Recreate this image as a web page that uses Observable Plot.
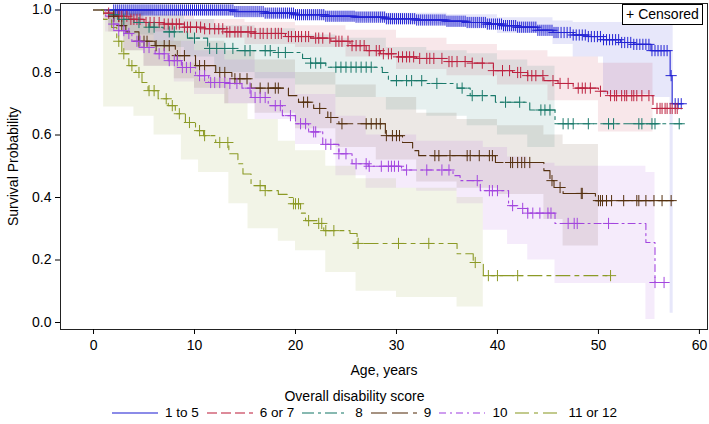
<!DOCTYPE html>
<html><head><meta charset="utf-8">
<script src="https://cdn.jsdelivr.net/npm/d3@7"></script>
<script src="https://cdn.jsdelivr.net/npm/@observablehq/plot@0.6"></script>
<style>
body{margin:0;background:#fff;font-family:"Liberation Sans",Arial,sans-serif;}
#wrap{position:relative;width:709px;height:424px;overflow:hidden;}
#censbox{position:absolute;left:622px;top:4px;width:79px;height:19px;border:1px solid #000;font-size:14px;line-height:19px;text-align:center;background:#fff;}
#ltitle{position:absolute;left:0;width:709px;top:388px;text-align:center;font-size:14px;}
#litems{position:absolute;left:0;width:709px;top:405px;display:flex;justify-content:center;padding-left:28px;box-sizing:border-box;font-size:13.5px;align-items:center;}
.li{display:flex;align-items:center;margin-right:8px;}
.li svg{margin-right:7px;}
</style></head><body><div id="wrap"></div>
<script>
// ---- data ----
const groups = ["1 to 5","6 or 7","8","9","10","11 or 12"];
const colors = ["#2424d4","#bd2340","#1b7a6b","#55300f","#a346df","#8c9a26"];
const dashes = ["none","10,4","12,4,3,4","16,5","7,4,2,4","14,5,4,5"];
const xTicks = [0,10,20,30,40,50,60];
const yTicks = [0,0.2,0.4,0.6,0.8,1.0];

// 1 to 5
const t1 = [0,14,17,20,23,26,29,32,35,37,39,40.5,42,44,45.5,47.5,49,50.5,52.2,53.5,55.2,57.1,57.3,58.3];
const s1 = [1,0.995,0.99,0.985,0.98,0.977,0.972,0.968,0.964,0.96,0.955,0.95,0.945,0.935,0.928,0.92,0.915,0.905,0.896,0.89,0.87,0.79,0.70,0.70];
const bt1 = [0,2,10,17,23,29,35,40,45.5,47.5,50.5,55.2,57.1,57.4];
const lo1 = [1,0.985,0.982,0.975,0.965,0.955,0.945,0.925,0.89,0.85,0.73,0.72,0.03,0.03];
const hi1 = [1,1,1,0.998,0.995,0.99,0.985,0.975,0.965,0.96,0.96,0.95,1,1];
const c1 = [2,2.2,2.4,2.6,2.8,3,3.2,3.4,3.6,3.8,4,4.2,4.4,4.6,4.8,5,5.2,5.4,5.6,5.8,6,6.2,6.4,6.6,6.8,7,7.2,7.4,7.6,7.8,8,8.2,8.4,8.6,8.8,9,9.2,9.4,9.6,9.8,10,10.2,10.4,10.6,10.8,11,11.2,11.4,11.6,11.8,12,12.2,12.4,12.6,12.8,13,13.2,13.4,13.6,13.8,14,14.2,14.4,14.6,14.8,15,15.2,15.4,15.6,15.8,16,16.2,16.4,16.6,16.8,17,17.2,17.4,17.6,17.8,18,18.2,18.4,18.6,18.8,19,19.2,19.4,19.6,19.8,20,20.2,20.4,20.6,20.8,21,21.2,21.4,21.6,21.8,22,22.2,22.4,22.6,22.8,23,23.2,23.4,23.6,23.8,24,24.2,24.4,24.6,24.8,25,25.2,25.4,25.6,25.8,26,26.2,26.4,26.6,26.8,27,27.2,27.4,27.6,27.8,28,28.2,28.4,28.6,28.8,29,29.2,29.4,29.6,29.8,30,30.2,30.4,30.6,30.8,31,31.2,31.4,31.6,31.8,32,32.2,32.4,32.6,32.8,33,33.2,33.4,33.6,33.8,34,34.2,34.4,34.6,34.8,35,35.2,35.4,35.6,35.8,36,36.2,36.4,36.6,36.8,37,37.2,37.4,37.6,37.8,38,38.2,38.4,38.6,38.8,39,39.2,39.4,39.6,39.8,40,40.2,40.4,40.6,40.8,41,41.2,41.4,41.6,41.8,42,42.2,42.4,42.6,42.8,43,43.2,43.4,43.6,43.8,44,44.2,44.4,44.6,44.8,45,45.2,45.4,45.6,45.8,46,46.3,46.6,46.9,47.2,47.5,47.8,48.1,48.4,48.7,49,49.3,49.6,49.9,50.2,50.5,50.8,51.1,51.4,51.7,52,52.3,52.6,52.9,53.2,53.5,53.8,54.1,54.4,54.7,55,55.3,55.6,55.9,56.2,56.5,56.8,57.2,57.6,57.9,58.2];

// 6 or 7
const t2 = [0,1,2,3.5,5,7,9,11,13,16,19,21.5,23.5,25.4,27,28.4,30,32,35,37.5,39.6,41.5,43,44.6,46,47.5,50,50.9,55.4,57.9];
const s2 = [1,0.99,0.98,0.97,0.96,0.955,0.945,0.94,0.93,0.925,0.915,0.91,0.9,0.886,0.87,0.86,0.85,0.845,0.835,0.83,0.806,0.8,0.79,0.774,0.765,0.75,0.74,0.726,0.685,0.685];
const bt2 = [0,1,3,6,10,15,20,25,30,35,40,45,50,55.4];
const lo2 = [1,0.97,0.95,0.93,0.91,0.89,0.88,0.85,0.81,0.79,0.76,0.71,0.61,0.61];
const hi2 = [1,1,0.995,0.985,0.97,0.96,0.95,0.935,0.91,0.89,0.87,0.85,0.83,0.83];
const c2 = [1.5,2,2.5,2.8,3.3,3.7,4,4.3,4.6,5.2,5.6,6,6.5,7,7.4,7.8,8.2,8.5,9,9.3,9.6,10.2,10.6,11,11.5,12,12.4,12.8,13.2,13.5,14,14.3,14.6,15.3,15.6,16,16.5,16.8,17.2,17.6,18,18.3,18.6,19.3,19.6,20,20.3,20.6,21,21.3,22,22.3,22.7,23.4,24,24.3,24.6,25.2,25.6,26,26.4,26.8,27.3,28,28.3,28.7,29.2,29.5,30.2,30.6,31,31.3,31.7,32.3,33,33.3,33.7,34.5,35.2,35.5,36,36.8,37.5,38.5,39.6,40.5,41.2,42,42.3,43,43.4,43.8,44.5,45.5,46.2,47,48,48.4,48.7,49.2,50.2,51.2,51.6,51.8,52.3,52.6,52.8,53.3,53.5,53.8,54.3,55,55.8,56.1,56.3,56.6,56.8,57.1,57.3,57.6,57.8];

// 8
const t3 = [0,1.5,2.4,4,5.5,6.9,9.3,11.3,14,17.7,20.7,21.5,23,28.6,29.2,33,36,37.3,39.8,43.2,45.7,58.3];
const s3 = [1,0.985,0.97,0.96,0.945,0.93,0.91,0.877,0.87,0.864,0.845,0.83,0.817,0.8,0.774,0.765,0.75,0.726,0.705,0.68,0.636,0.636];
const bt3 = [0,1.5,3,6,9,12,16,20,24,29,33,37,40,43,45.7];
const lo3 = [1,0.95,0.92,0.88,0.85,0.8,0.78,0.76,0.72,0.68,0.66,0.63,0.6,0.56,0.5];
const hi3 = [1,1,0.995,0.985,0.97,0.95,0.94,0.92,0.91,0.88,0.87,0.86,0.84,0.82,0.8];
const c3 = [2,3,4.5,5.5,6,7.5,8,10,11.5,12.2,13,13.8,15,15.5,17,17.5,18.3,19,21.5,22,22.5,24,24.5,25,25.5,26,26.5,27,27.5,30,31,31.5,32.5,34,36.5,37.5,38.5,40.8,42.2,44.3,44.7,45.2,46.5,47,47.5,49,51,51.5,54,54.3,55.3,55.6,58];

// 9
const t4 = [0,1.5,2.5,3.2,4.5,6.1,8.1,10.1,12.1,13.7,15.6,19.3,20.3,21.8,23.2,24.3,28.9,30.6,31.6,32.2,39.8,44.6,45.2,45.6,46.5,49.7,57.4];
const s4 = [1,0.98,0.95,0.93,0.9,0.886,0.854,0.822,0.8,0.78,0.75,0.726,0.705,0.685,0.656,0.636,0.598,0.576,0.55,0.534,0.512,0.486,0.454,0.432,0.413,0.39,0.39];
const bt4 = [0,1.5,3,5,8,10,13,16,20,24,28,32,36,40,44.6,46.5,50];
const lo4 = [1,0.93,0.87,0.82,0.78,0.75,0.7,0.67,0.62,0.56,0.52,0.45,0.43,0.41,0.33,0.245,0.245];
const hi4 = [1,1,0.99,0.96,0.93,0.9,0.87,0.84,0.8,0.76,0.72,0.67,0.65,0.63,0.6,0.57,0.57];
const c4 = [2,2.8,4.5,5,5.3,6.2,7,7.5,8.3,9,10.5,11,12.5,13,14,14.5,15.2,16.5,17.3,18,18.3,20.8,21.2,22.4,23.5,24.6,27,27.5,28,28.4,29,29.6,30,30.3,33.8,34.2,35.3,37,37.3,38.2,39.2,39.5,41.3,41.5,42,42.4,42.7,43.2,45.4,46.2,48.3,48.4,50,50.2,50.4,50.8,51.3,52.5,53.8,54,54.7,55.5,56.3,57.2];

// 10
const t5 = [0,1.2,1.8,2.5,3.2,3.8,4.8,6.1,7.4,8.7,10.1,11.4,13.4,14.7,15.6,17.3,18.7,20,21.3,22.7,24.3,25.6,27.2,30.5,35.6,36.3,38.3,41.1,42,43,45.7,54.7,55.6,56.6];
const s5 = [1,0.98,0.955,0.934,0.925,0.9,0.88,0.86,0.838,0.816,0.79,0.768,0.765,0.75,0.72,0.694,0.662,0.636,0.61,0.57,0.54,0.508,0.5,0.488,0.47,0.454,0.422,0.374,0.365,0.35,0.317,0.256,0.128,0.128];
const bt5 = [0,1.2,3,5,8,10,13,16,20,24,27,32,36,38.6,41,43,45.7,54.7,55.6];
const lo5 = [1,0.93,0.87,0.82,0.77,0.73,0.7,0.65,0.57,0.47,0.43,0.42,0.38,0.295,0.25,0.2,0.125,0.01,0.01];
const hi5 = [1,1,0.98,0.94,0.9,0.87,0.84,0.8,0.73,0.66,0.6,0.58,0.58,0.56,0.53,0.51,0.5,0.48,0.48];
const c5 = [2,2.5,3,3.5,4.3,4.6,5,5.5,6.5,7,7.5,8,8.3,8.8,9.2,9.6,10.5,11,11.6,12,12.5,13,13.5,14.2,15.5,16,16.5,17,18,18.5,19.5,20.5,21,21.8,22,23,23.5,24.3,25,26,27,27.3,28.5,29.2,29.5,29.8,30.2,31,33,34.5,35.2,38,39.2,39.5,40,41.5,42.5,43,43.5,44.2,45,45.3,47,47.6,47.9,51,55.6,56.5];

// 11 or 12
const t6 = [0,1,1.8,2.3,2.8,3.5,4.2,4.8,5.4,6.4,7.4,8.1,9.1,10.1,10.9,12.1,13.4,14.3,14.8,15.6,17,18.3,19.2,19.8,20.5,21,22.2,22.8,25.4,26.1,36,37.6,38.6,51.2];
const s6 = [1,0.97,0.944,0.9,0.86,0.822,0.8,0.768,0.742,0.716,0.694,0.668,0.64,0.614,0.598,0.576,0.54,0.508,0.475,0.438,0.422,0.41,0.4,0.38,0.35,0.326,0.317,0.294,0.285,0.253,0.22,0.192,0.15,0.15];
const bt6 = [0,1,2.3,4,6,8.7,10.4,13.4,15.3,18.3,20,23,26,30,36,38.6];
const lo6 = [1,0.69,0.69,0.66,0.6,0.52,0.48,0.38,0.3,0.26,0.23,0.16,0.1,0.08,0.05,0.03];
const hi6 = [1,1,0.99,0.95,0.9,0.83,0.78,0.7,0.65,0.58,0.55,0.5,0.46,0.43,0.4,0.33];
const c6 = [2.5,3,3.8,4.5,5.5,6,7.2,7.8,8.5,9.5,10.5,11,12.5,13.3,16.5,17,19.8,20,20.3,21.3,22.3,22.6,23,23.8,26.2,30.2,33.2,37.8,39.1,40,42,51.2];

// ---- build tables ----
const T=[t1,t2,t3,t4,t5,t6], S=[s1,s2,s3,s4,s5,s6];
const BT=[bt1,bt2,bt3,bt4,bt5,bt6], LO=[lo1,lo2,lo3,lo4,lo5,lo6], HI=[hi1,hi2,hi3,hi4,hi5,hi6];
const C=[c1,c2,c3,c4,c5,c6];
function stepAt(ts, ss, t){let v=ss[0];for(let i=0;i<ts.length;i++){if(ts[i]<=t)v=ss[i];}return v;}

const bandMarks=[], lineMarks=[], censMarks=[];
groups.forEach((g,i)=>{
  const band = BT[i].map((t,j)=>({t, lo:LO[i][j], hi:HI[i][j]}));
  bandMarks.push(Plot.areaY(band,{x:"t",y1:"lo",y2:"hi",curve:"step-after",fill:colors[i],fillOpacity:0.11}));
  const line = T[i].map((t,j)=>({t, s:S[i][j]}));
  lineMarks.push(Plot.line(line,{x:"t",y:"s",curve:"step-after",stroke:colors[i],strokeWidth:1.1,strokeDasharray:dashes[i]==="none"?null:dashes[i]}));
  const cens = C[i].map(t=>({t, s:stepAt(T[i],S[i],t)}));
  censMarks.push(Plot.dot(cens,{x:"t",y:"s",symbol:"plus",r:3.7,stroke:colors[i],strokeWidth:1}));
});

const chart = Plot.plot({
  width:709, height:385,
  marginLeft:60, marginRight:2, marginTop:3, marginBottom:56,
  style:{fontFamily:"'Liberation Sans', Arial, sans-serif", fontSize:"14px", color:"#000", background:"transparent"},
  x:{domain:[-3.27,60.8]},
  y:{domain:[-0.0224,1.0208]},
  marks:[
    ...bandMarks,
    ...lineMarks,
    ...censMarks,
    Plot.frame({stroke:"#222"}),
    Plot.axisX({ticks:xTicks, tickSize:5, tickPadding:6, tickFormat:d=>String(d), label:"Age, years", labelAnchor:"center", labelArrow:"none", labelOffset:45, fontSize:14}),
    Plot.axisY({ticks:yTicks, tickSize:5, tickPadding:4, tickFormat:d=>d.toFixed(1), label:"Survival Probability", labelAnchor:"center", labelArrow:"none", labelOffset:52, fontSize:14})
  ]
});
const wrap=document.getElementById("wrap");
wrap.appendChild(chart);
const box=document.createElement("div");box.id="censbox";box.textContent="+ Censored";wrap.appendChild(box);
const lt=document.createElement("div");lt.id="ltitle";lt.textContent="Overall disability score";wrap.appendChild(lt);
const li=document.createElement("div");li.id="litems";
groups.forEach((g,i)=>{
  const d=document.createElement("div");d.className="li";
  d.innerHTML=`<svg width="46" height="8"><line x1="0" y1="4" x2="46" y2="4" stroke="${colors[i]}" stroke-opacity="0.7" stroke-width="1.5" ${dashes[i]==="none"?"":`stroke-dasharray="${dashes[i]}"`}/></svg><span>${g}</span>`;
  li.appendChild(d);
});
wrap.appendChild(li);
</script></body></html>
